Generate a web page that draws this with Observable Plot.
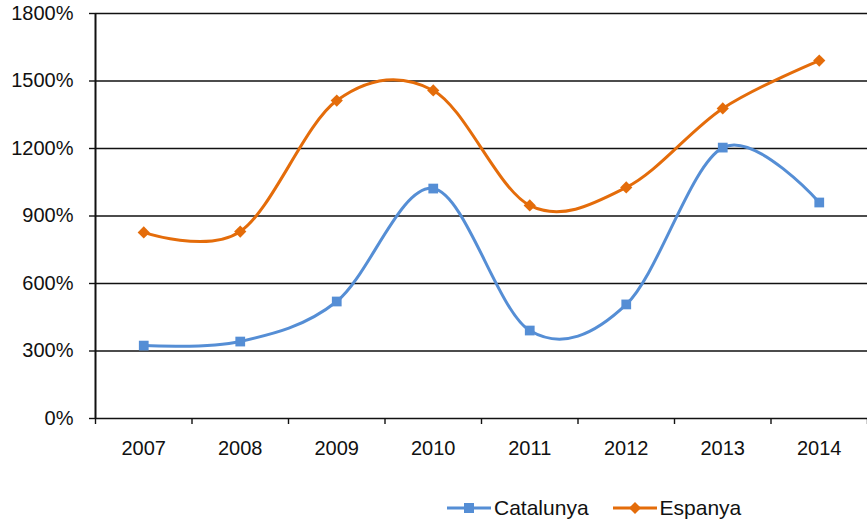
<!DOCTYPE html>
<html>
<head>
<meta charset="utf-8">
<script src="https://cdn.jsdelivr.net/npm/d3@7"></script>
<script src="https://cdn.jsdelivr.net/npm/@observablehq/plot@0.6"></script>
<style>
  body { margin: 0; background: #fff; font-family: "Liberation Sans", Arial, sans-serif; }
  #legend { display: flex; align-items: center; margin-top: 26px; padding-left: 447px; font-size: 21px; color: #111; height: 24px; }
  .item { display: flex; align-items: center; margin-right: 24px; }
  .item svg { margin-right: 3px; }
</style>
</head>
<body>
<div id="chart"></div>
<div id="legend"></div>
<script>
const years = [2007, 2008, 2009, 2010, 2011, 2012, 2013, 2014];
const catalunya = [324, 342, 520, 1022, 391, 507, 1204, 960];
const espanya = [827, 831, 1413, 1458, 947, 1027, 1378, 1591];
const yTicks = [0, 300, 600, 900, 1200, 1500, 1800];
const seriesNames = ["Catalunya", "Espanya"];
const colors = ["#558ED5", "#E46C0A"];
const symbols = ["square", "diamond2"];

const data = [];
years.forEach((y, i) => {
  data.push({year: y, value: catalunya[i], serie: seriesNames[0]});
  data.push({year: y, value: espanya[i], serie: seriesNames[1]});
});
const boundaries = years.map(y => y - 0.5).concat([years[years.length - 1] + 0.5]);

const chart = Plot.plot({
  width: 867,
  height: 470,
  marginLeft: 95,
  marginRight: 0,
  marginTop: 13,
  marginBottom: 52,
  style: {fontFamily: "'Liberation Sans', Arial, sans-serif", fontSize: "20px", color: "#111", overflow: "visible"},
  x: {domain: [years[0] - 0.5, years[years.length - 1] + 0.5]},
  y: {domain: [0, 1800]},
  color: {domain: seriesNames, range: colors},
  symbol: {domain: seriesNames, range: symbols},
  marks: [
    Plot.ruleY(yTicks, {stroke: "#111", strokeWidth: 1.4}),
    Plot.axisY(yTicks, {tickSize: 6, tickPadding: 16, tickFormat: d => d + "%", label: null, stroke: "#111", strokeWidth: 1.4, fontSize: 20}),
    Plot.ruleX([years[0] - 0.5], {stroke: "#111", strokeWidth: 2}),
    Plot.axisX(boundaries, {tickSize: 6, tickFormat: () => "", label: null, stroke: "#111", strokeWidth: 1.4}),
    Plot.axisX(years, {tickSize: 0, tickPadding: 22, tickFormat: d => String(d), label: null, fontSize: 20}),
    Plot.line(data, {x: "year", y: "value", z: "serie", stroke: "serie", strokeWidth: 3, curve: "cardinal"}),
    Plot.dot(data, {x: "year", y: "value", fill: "serie", symbol: "serie", r: 5.5, stroke: null})
  ]
});
document.getElementById("chart").appendChild(chart);

const legend = document.getElementById("legend");
seriesNames.forEach((name, i) => {
  const item = document.createElement("div");
  item.className = "item";
  const marker = symbols[i] === "square"
    ? `<rect x="17" y="5" width="10" height="10" fill="${colors[i]}"/>`
    : `<path d="M22,4 L28,10 L22,16 L16,10 Z" fill="${colors[i]}"/>`;
  item.innerHTML = `<svg width="44" height="20"><line x1="0" x2="44" y1="10" y2="10" stroke="${colors[i]}" stroke-width="3"/>${marker}</svg><span>${name}</span>`;
  legend.appendChild(item);
});
</script>
</body>
</html>
